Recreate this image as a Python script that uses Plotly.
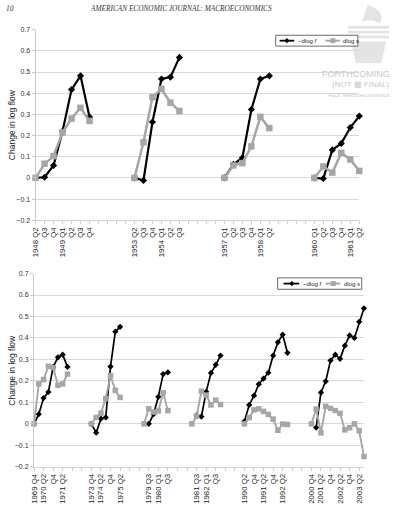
import plotly.graph_objects as go

# ---------------- DATA ----------------
N = None
top_labels = ["1948 Q2", "Q3", "Q4", "1949 Q1", "Q2", "Q3", "Q4", "", "", "", "",
              "1953 Q2", "Q3", "Q4", "1954 Q1", "Q2", "Q3", "", "", "", "",
              "1957 Q1", "Q2", "Q3", "Q4", "1958 Q1", "Q2", "", "", "", "",
              "1960 Q1", "Q2", "Q3", "Q4", "1961 Q1", "Q2"]
top_neg_dlog_f = [0, 0.003, 0.059, 0.22, 0.417, 0.482, 0.288, N, N, N, N,
                  0, -0.012, 0.264, 0.467, 0.476, 0.569, N, N, N, N,
                  0, 0.064, 0.095, 0.323, 0.467, 0.482, N, N, N, N,
                  0, -0.003, 0.132, 0.163, 0.238, 0.292]
top_dlog_s = [0, 0.067, 0.103, 0.215, 0.28, 0.331, 0.269, N, N, N, N,
              0, 0.168, 0.381, 0.42, 0.355, 0.316, N, N, N, N,
              0, 0.059, 0.07, 0.149, 0.288, 0.235, N, N, N, N,
              0, 0.054, 0.025, 0.118, 0.087, 0.033]

bottom_labels = ["1969 Q4", "", "1970 Q2", "", "Q4", "", "1971 Q2", "", "", "", "", "",
                 "1973 Q4", "", "1974 Q2", "", "Q4", "", "1975 Q2", "", "", "", "",
                 "", "1979 Q3", "", "1980 Q1", "", "Q3", "", "", "", "",
                 "", "1981 Q3", "", "1982 Q1", "", "Q3", "", "", "", "", "",
                 "1990 Q2", "", "Q4", "", "1991 Q2", "", "Q4", "", "1992 Q2", "", "", "", "", "",
                 "2000 Q4", "", "2001 Q2", "", "Q4", "", "2002 Q2", "", "Q4", "", "2003 Q2", ""]
bottom_neg_dlog_f = [0, 0.045, 0.12, 0.148, 0.265, 0.31, 0.322, 0.265, N, N, N, N,
                     0, -0.041, 0.024, 0.03, 0.267, 0.429, 0.452, N, N, N, N,
                     N, 0, 0.045, 0.126, 0.232, 0.24, N, N, N, N,
                     N, 0.04, 0.034, 0.149, 0.237, 0.275, 0.318, N, N, N, N,
                     0.012, 0.088, 0.131, 0.185, 0.211, 0.238, 0.318, 0.38, 0.415, 0.331, N, N, N, N,
                     N, -0.017, 0.146, 0.198, 0.295, 0.322, 0.303, 0.364, 0.412, 0.4, 0.475, 0.538]
bottom_dlog_s = [0, 0.186, 0.206, 0.268, 0.262, 0.18, 0.186, 0.232, N, N, N, N,
                 0, 0.03, 0.05, 0.118, 0.224, 0.156, 0.123, N, N, N, N,
                 0, 0.07, 0.055, 0.06, 0.145, 0.062, N, N, N, N,
                 0, 0.035, 0.152, 0.134, 0.088, 0.11, 0.09, N, N, N, N,
                 0, 0.029, 0.065, 0.07, 0.058, 0.044, 0.022, -0.03, -0.001, -0.003, N, N, N, N,
                 0, 0.069, -0.042, 0.082, 0.072, 0.062, 0.049, -0.028, -0.018, 0, -0.032, -0.152]
y_tick_values = [-0.2, -0.1, 0, 0.1, 0.2, 0.3, 0.4, 0.5, 0.6, 0.7]
series_names = ["\u2212dlog <i>f</i>", "dlog <i>s</i>"]

# ---------------- LAYOUT HELPERS ----------------
W, H = 398, 507
def px(x):
    return x / W
def py(y):
    return 1 - y / H

BLACK = "#000000"
GRAY = "#a6a6a6"
GRID = "#d9d9d9"
FONT = "Liberation Sans, Arial, sans-serif"

fig = go.Figure()

top_x = list(range(len(top_labels)))
bot_x = list(range(len(bottom_labels)))

fig.add_trace(go.Scatter(x=top_x, y=top_neg_dlog_f, mode="lines+markers", name=series_names[0],
                         line=dict(color=BLACK, width=2.2),
                         marker=dict(symbol="diamond", size=5.5, color=BLACK),
                         cliponaxis=False, showlegend=False, xaxis="x", yaxis="y"))
fig.add_trace(go.Scatter(x=top_x, y=top_dlog_s, mode="lines+markers", name=series_names[1],
                         line=dict(color=GRAY, width=2.5),
                         marker=dict(symbol="square", size=6.5, color=GRAY),
                         cliponaxis=False, showlegend=False, xaxis="x", yaxis="y"))
fig.add_trace(go.Scatter(x=bot_x, y=bottom_neg_dlog_f, mode="lines+markers", name=series_names[0],
                         line=dict(color=BLACK, width=1.7),
                         marker=dict(symbol="diamond", size=4.8, color=BLACK),
                         cliponaxis=False, showlegend=False, xaxis="x2", yaxis="y2"))
fig.add_trace(go.Scatter(x=bot_x, y=bottom_dlog_s, mode="lines+markers", name=series_names[1],
                         line=dict(color=GRAY, width=1.9),
                         marker=dict(symbol="square", size=5.5, color=GRAY),
                         cliponaxis=False, showlegend=False, xaxis="x2", yaxis="y2"))

def xaxis_cfg(domain, n, tickvals, ticktext, anchor):
    return dict(domain=domain, range=[0, n - 1], anchor=anchor,
                tickmode="array", tickvals=tickvals, ticktext=ticktext,
                tickangle=-90, tickfont=dict(family=FONT, size=7.8, color="#222"),
                showgrid=False, zeroline=False, showline=True, linecolor="#d0d0d0",
                linewidth=1, ticks="outside", ticklen=3, tickcolor="#d0d0d0")

def yaxis_cfg(domain, anchor):
    return dict(domain=domain, range=[-0.2, 0.7], anchor=anchor,
                tickmode="array", tickvals=y_tick_values,
                tickfont=dict(family=FONT, size=7, color="#333"),
                showgrid=True, gridcolor=GRID, gridwidth=1, zeroline=False,
                showline=True, linecolor="#c8c8c8", linewidth=1,
                ticks="outside", ticklen=3, tickcolor="#c8c8c8")

bt_vals = list(range(0, len(bottom_labels), 2))
bt_text = [bottom_labels[i] for i in bt_vals]

fig.update_layout(
    width=W, height=H,
    margin=dict(l=0, r=0, t=0, b=0),
    paper_bgcolor="white", plot_bgcolor="white",
    showlegend=False,
    xaxis=xaxis_cfg([px(32.3), px(363.5)], len(top_labels), top_x, top_labels, "y"),
    yaxis=yaxis_cfg([py(219.3), py(26)], "x"),
    xaxis2=xaxis_cfg([px(30.7), px(368.3)], len(bottom_labels), bt_vals, bt_text, "y2"),
    yaxis2=yaxis_cfg([py(469.3), py(273.3)], "x2"),
)

annotations = []
shapes = []

# y-axis titles
for yc in (122, 371):
    annotations.append(dict(x=px(8), y=py(yc), xref="paper", yref="paper",
                            text="Change in log flow", textangle=-90, showarrow=False,
                            font=dict(family=FONT, size=8.5, color="#222"),
                            xanchor="center", yanchor="middle"))

# custom legends
def legend(box, y, f_line, f_mark, f_text, s_line, s_mark, s_text):
    x0, x1, y0, y1 = box
    shapes.append(dict(type="rect", xref="paper", yref="paper",
                       x0=px(x0), x1=px(x1), y0=py(y1), y1=py(y0),
                       line=dict(color="#444", width=0.8), fillcolor="white", layer="above"))
    shapes.append(dict(type="line", xref="paper", yref="paper",
                       x0=px(f_line[0]), x1=px(f_line[1]), y0=py(y), y1=py(y),
                       line=dict(color=BLACK, width=1.8), layer="above"))
    r = 2.6
    shapes.append(dict(type="path", xref="paper", yref="paper", layer="above",
                       path=f"M {px(f_mark)},{py(y - r)} L {px(f_mark + r)},{py(y)} L {px(f_mark)},{py(y + r)} L {px(f_mark - r)},{py(y)} Z",
                       fillcolor=BLACK, line=dict(width=0)))
    shapes.append(dict(type="line", xref="paper", yref="paper",
                       x0=px(s_line[0]), x1=px(s_line[1]), y0=py(y), y1=py(y),
                       line=dict(color=GRAY, width=2), layer="above"))
    q = 2.5
    shapes.append(dict(type="rect", xref="paper", yref="paper", layer="above",
                       x0=px(s_mark - q), x1=px(s_mark + q), y0=py(y + q), y1=py(y - q),
                       fillcolor=GRAY, line=dict(width=0)))
    for tx, name in ((f_text, series_names[0]), (s_text, series_names[1])):
        annotations.append(dict(x=px(tx), y=py(y), xref="paper", yref="paper",
                                text=name, showarrow=False, xanchor="left", yanchor="middle",
                                font=dict(family=FONT, size=6, color="#222")))

legend((278, 362, 31.7, 42.7), 37.2, (282, 297), 289.5, 298.5, (329, 343.5), 336.5, 344.5)
legend((280, 366, 277.7, 289.3), 283.5, (286, 302), 294.5, 303.5, (329, 344), 337, 346)

# page header (journal running head)
annotations.append(dict(x=px(0), y=py(5), xref="paper", yref="paper", text="<i>10</i>",
                        showarrow=False, xanchor="left", yanchor="middle",
                        font=dict(family="Liberation Serif, serif", size=7.5, color="#333")))
annotations.append(dict(x=px(181), y=py(5), xref="paper", yref="paper",
                        text="<i>AMERICAN ECONOMIC JOURNAL: MACROECONOMICS</i>",
                        showarrow=False, xanchor="center", yanchor="middle",
                        font=dict(family="Liberation Serif, serif", size=7.3, color="#333")))

# watermark
WM = "#c9c9c9"
shapes.append(dict(type="path", xref="paper", yref="paper", layer="below",
                   path=f"M {px(372)},{py(1)} Q {px(392)},{py(8)} {px(384)},{py(20)} Q {px(378)},{py(14)} {px(366)},{py(18)} Q {px(370)},{py(9)} {px(372)},{py(1)} Z",
                   fillcolor="#e4e4e4", line=dict(width=0)))
for (ya, yb) in [(22, 25), (27, 30), (32, 35)]:
    shapes.append(dict(type="rect", xref="paper", yref="paper", x0=px(352), x1=px(394),
                       y0=py(yb), y1=py(ya), fillcolor="#e4e4e4", line=dict(width=0), layer="below"))
shapes.append(dict(type="path", xref="paper", yref="paper", layer="below",
                   path=f"M {px(355)},{py(38)} L {px(391)},{py(38)} L {px(386)},{py(60)} L {px(360)},{py(60)} Z",
                   fillcolor="#e4e4e4", line=dict(width=0)))
annotations.append(dict(x=px(397), y=py(71), xref="paper", yref="paper", text="FORTHCOMING",
                        showarrow=False, xanchor="right", yanchor="middle",
                        font=dict(family=FONT, size=9, color=WM)))
annotations.append(dict(x=px(397), y=py(82), xref="paper", yref="paper", text="(NOT \u25a6 FINAL)",
                        showarrow=False, xanchor="right", yanchor="middle",
                        font=dict(family=FONT, size=8, color=WM)))
annotations.append(dict(x=px(397), y=py(92), xref="paper", yref="paper", text="AEJ: Macroeconomics",
                        showarrow=False, xanchor="right", yanchor="middle",
                        font=dict(family=FONT, size=6.2, color=WM)))

fig.update_layout(annotations=annotations, shapes=shapes)
fig.write_html("out.html")
